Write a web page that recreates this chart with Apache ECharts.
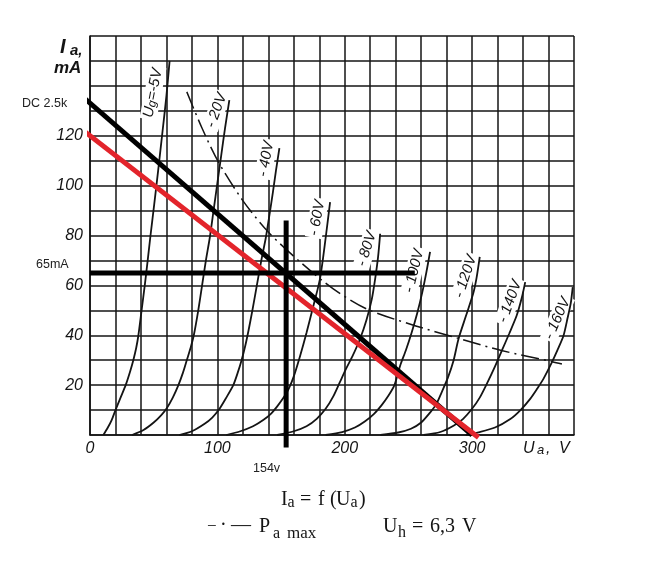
<!DOCTYPE html>
<html>
<head>
<meta charset="utf-8">
<script src="https://cdn.jsdelivr.net/npm/echarts@6/dist/echarts.min.js"></script>
<style>
html,body{margin:0;padding:0;background:#fff;}
#chart{width:656px;height:573px;}
</style>
</head>
<body>
<div id="chart"></div>
<script>
// ---------------- data ----------------
// Anode voltage Ua (V), anode current Ia (mA)
const xTickLabels = [0, 100, 200, 300];
const yTickLabels = [20, 40, 60, 80, 100, 120];
const curveNames = ['Ug=-5V', '- 20V', '- 40V', '- 60V', '- 80V', '- 100V', '- 120V', '- 140V', '- 160V'];

const ug5 = [[10.5,0],[14,3],[17,6],[20,10],[24,15],[28,20],[31.5,25.5],[34,30],[36.3,35],[38,40],[40.5,50],[43,60],[45.3,70],[47.5,80],[50.3,92],[53.5,106],[57,122],[60,136],[62.5,150]];
const ug20 = [[33,0],[42,2],[50,5],[56,8],[60,10.5],[65,15],[69.4,20],[73,25],[76,30],[79,35],[81.5,40],[85,50],[88,60],[91,70],[94,79],[97,90],[100,101],[103,112],[106,123],[109.4,134.3]];
const ug40 = [[70,0],[80,1.5],[90,4.5],[96,7],[101,10],[107,15],[112.5,20],[116,25],[119,30],[122,36],[124.5,42],[127.5,50],[131,60],[134.5,70],[138,79],[140.5,87],[143.5,97],[146,106],[148.7,115]];
const ug60 = [[107,0],[118,1.5],[128,3.5],[136,6],[142,8.5],[147,11.5],[152,15],[156,18.5],[160,23.5],[165,31.8],[170,41],[175,51],[178.5,58],[180.7,63],[183,71],[185.5,81],[188.5,93.4]];
const ug80 = [[147,0],[160,1.5],[170,3.5],[178,6.5],[185,10.5],[191,15.5],[196,21],[201,26.5],[206,31.5],[212,38.5],[217,46],[221.3,54.6],[224,63],[226.2,71.5],[227.8,80.7]];
const ug100 = [[185,0],[198,1.2],[208,3],[216,5.5],[223,8.5],[229,12],[234,15.5],[239,20],[243.5,27.8],[248,34],[252.5,41],[257,49],[261,57.5],[264,65],[267,73.4]];
const ug120 = [[228,0],[242,1],[252,2.5],[260,5],[267,9],[272,12.5],[276,17],[281,23],[285.5,30],[289.3,38.5],[295,47.5],[300.8,56.6],[303.5,63],[306,71.4]];
const ug140 = [[262,0],[275,1.2],[285.4,3.7],[293,6.5],[299.8,10.4],[306,15],[312,21],[318,27.5],[323.4,33.9],[329,40.5],[335,47.9],[339,55],[341.7,61.3]];
const ug160 = [[295,0],[306,1.2],[318,3],[330,6.4],[338,10],[345.6,14.5],[351,18.5],[356,22.5],[362.7,29.2],[367,34],[371.8,39.9],[375,47],[377.5,53],[379,59.3]];
const curves = [ug5, ug20, ug40, ug60, ug80, ug100, ug120, ug140, ug160];

const paMax = [[76,137.6],[88,123],[100.8,109.5],[120,94],[140,81.4],[165,69.4],[191,58.6],[217,50.6],[251,44.5],[291,38.5],[323,33.9],[363,29.4],[370.5,28.5]];

const loadLineDC = [[-19.6,141.8],[300,0]];
const loadLineRed = [[-4,121.6],[305,-1]];
const workCurrent = [[0,65],[255,65]];
const workVoltage = [[154,-5],[154,86]];
const annotations = ['DC 2.5k', '65mA', '154v'];

// ---------------- presentation ----------------
const INK = '#141414';
const RED = '#e3242b';
const NUM_FONT = 'Liberation Sans';
const SERIF = 'Liberation Serif';
const SANS = 'Liberation Sans';

// layout of curve labels (pixel centre, angle in degrees)
const curveLabelLayout = [
  [153, 93, 79], [216.5, 110.5, 70], [266, 159, 79], [317, 218, 79], [366.7, 249, 72],
  [414, 271, 76], [465.5, 276.5, 72], [510, 301.5, 70], [557.5, 318.5, 66]
];

function piece(x, base, t, size, fam, st, w) {
  const font = (st || 'normal') + ' ' + (w || 'normal') + ' ' + size + 'px "' + fam + '"';
  return {
    type: 'text', x: x, y: base - 0.32 * size, z: 5,
    style: { text: t, font: font, fill: INK, textAlign: 'left', textVerticalAlign: 'middle', align: 'left', verticalAlign: 'middle' }
  };
}

const graphics = [];
// curve labels
curveNames.forEach((name, i) => {
  const [px, py, ang] = curveLabelLayout[i];
  let text = name, rich;
  if (i === 0) {
    text = '{u|U}{g|g}{t|=-5V}';
    rich = {
      u: { font: 'italic 15px "' + NUM_FONT + '"', fill: INK },
      g: { font: 'italic 12px "' + NUM_FONT + '"', fill: INK, verticalAlign: 'bottom', lineHeight: 8 },
      t: { font: 'italic 15px "' + NUM_FONT + '"', fill: INK }
    };
  }
  graphics.push({
    type: 'text', x: px, y: py, rotation: ang * Math.PI / 180, z: 1,
    style: {
      text: text, rich: rich, font: 'italic 15px "' + NUM_FONT + '"', fill: INK,
      textAlign: 'center', textVerticalAlign: 'middle', align: 'center', verticalAlign: 'middle',
      backgroundColor: '#fff', padding: [1, 2]
    }
  });
});

// axis titles
graphics.push(piece(60, 54, 'I', 20, NUM_FONT, 'italic', 'bold'));
graphics.push(piece(70, 56, 'a,', 15, NUM_FONT, 'italic', 'bold'));
graphics.push(piece(54, 74, 'mA', 17, NUM_FONT, 'italic', 'bold'));
graphics.push(piece(523, 454, 'U', 16, NUM_FONT, 'italic'));
graphics.push(piece(537, 455, 'a', 13, NUM_FONT, 'italic'));
graphics.push(piece(546, 454, ',', 16, NUM_FONT, 'italic'));
graphics.push(piece(559, 454, 'V', 16, NUM_FONT, 'italic'));

// annotations
graphics.push({ type: 'text', x: 22, y: 104, z: 5, style: { text: annotations[0], font: '12.5px "' + SANS + '"', fill: '#222', textVerticalAlign: 'middle', verticalAlign: 'middle' } });
graphics.push({ type: 'text', x: 36, y: 265, z: 5, style: { text: annotations[1], font: '12.5px "' + SANS + '"', fill: '#222', textVerticalAlign: 'middle', verticalAlign: 'middle' } });
graphics.push({ type: 'text', x: 253, y: 469, z: 5, style: { text: annotations[2], font: '12.5px "' + SANS + '"', fill: '#222', textVerticalAlign: 'middle', verticalAlign: 'middle' } });

// captions  Ia = f (Ua)
graphics.push(piece(281, 506, 'I', 20, SERIF));
graphics.push(piece(287.5, 507.5, 'a', 16, SERIF));
graphics.push(piece(300, 506, '=', 20, SERIF));
graphics.push(piece(318, 506, 'f', 20, SERIF));
graphics.push(piece(330, 506, '(', 20, SERIF));
graphics.push(piece(336, 506, 'U', 20, SERIF));
graphics.push(piece(350.5, 507.5, 'a', 16, SERIF));
graphics.push(piece(359, 506, ')', 20, SERIF));
// −·— Pa max
graphics.push(piece(207, 532, '−', 17, SERIF));
graphics.push(piece(220, 532, '·', 20, SERIF));
graphics.push(piece(231, 532, '—', 20, SERIF));
graphics.push(piece(259, 533, 'P', 20, SERIF));
graphics.push(piece(273, 539, 'a', 16, SERIF));
graphics.push(piece(287, 539, 'max', 17, SERIF));
// Uh = 6,3 V
graphics.push(piece(383, 533, 'U', 20, SERIF));
graphics.push(piece(398, 538, 'h', 16, SERIF));
graphics.push(piece(412, 533, '=', 20, SERIF));
graphics.push(piece(430, 533, '6,3', 20, SERIF));
graphics.push(piece(462, 533, 'V', 20, SERIF));

const series = [];
curves.forEach((d, i) => {
  series.push({
    name: curveNames[i], type: 'line', data: d, symbol: 'none', smooth: 0.25,
    lineStyle: { color: INK, width: 1.8 }, z: 3, silent: true
  });
});
series.push({
  name: 'Pa max', type: 'line', data: paMax, symbol: 'none', smooth: 0.3,
  lineStyle: { color: INK, width: 1.5, type: [18, 5, 2, 5] }, z: 3, silent: true
});
series.push({ name: 'DC 2.5k', type: 'line', data: loadLineDC, symbol: 'none', clip: false,
  lineStyle: { color: '#000', width: 5 }, z: 6, silent: true });
series.push({ name: 'load', type: 'line', data: loadLineRed, symbol: 'none', clip: false,
  lineStyle: { color: RED, width: 5 }, z: 7, silent: true });
series.push({ name: '65mA', type: 'line', data: workCurrent, symbol: 'none', clip: false,
  lineStyle: { color: '#000', width: 5 }, z: 8, silent: true });
series.push({ name: '154v', type: 'line', data: workVoltage, symbol: 'none', clip: false,
  lineStyle: { color: '#000', width: 5 }, z: 8, silent: true });

const option = {
  animation: false,
  backgroundColor: '#fff',
  grid: { left: 90, right: 82, top: 36, bottom: 138, show: false },
  xAxis: {
    type: 'value', min: 0, max: 380, interval: 20,
    axisLine: { show: true, onZero: false, lineStyle: { color: INK, width: 1.6 } },
    axisTick: { show: false },
    splitLine: { show: true, lineStyle: { color: INK, width: 1.5 } },
    axisLabel: {
      margin: 6, color: INK, fontSize: 16, fontStyle: 'italic', fontFamily: NUM_FONT,
      showMinLabel: true, showMaxLabel: true,
      formatter: v => xTickLabels.indexOf(v) >= 0 ? String(v) : ''
    }
  },
  yAxis: {
    type: 'value', min: 0, max: 160, interval: 10,
    axisLine: { show: true, onZero: false, lineStyle: { color: INK, width: 1.6 } },
    axisTick: { show: false },
    splitLine: { show: true, lineStyle: { color: INK, width: 1.5 } },
    axisLabel: {
      margin: 7, color: INK, fontSize: 16, fontStyle: 'italic', fontFamily: NUM_FONT,
      formatter: v => yTickLabels.indexOf(v) >= 0 ? String(v) : ''
    }
  },
  series: series,
  graphic: { elements: graphics }
};

const chart = echarts.init(document.getElementById('chart'), null, { renderer: 'canvas' });
chart.setOption(option);
</script>
</body>
</html>
